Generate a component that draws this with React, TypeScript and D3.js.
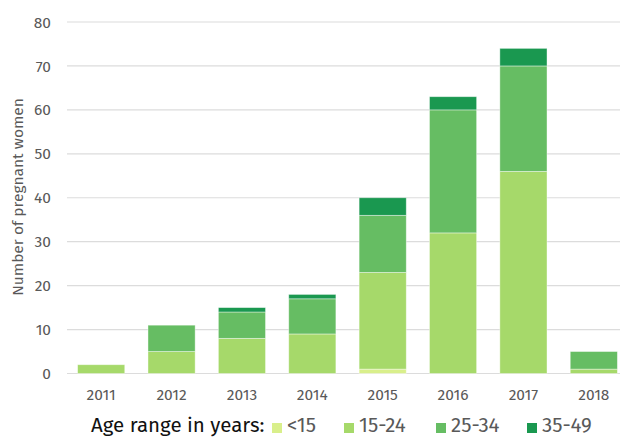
import { useEffect, useRef } from "react";
import * as d3 from "d3";

const years = ["2011", "2012", "2013", "2014", "2015", "2016", "2017", "2018"];
const ageGroups = ["<15", "15-24", "25-34", "35-49"];
const under15 = [0, 0, 0, 0, 1, 0, 0, 0];
const age15to24 = [2, 5, 8, 9, 22, 32, 46, 1];
const age25to34 = [0, 6, 6, 8, 13, 28, 24, 4];
const age35to49 = [0, 0, 1, 1, 4, 3, 4, 0];
const yTicks = [0, 10, 20, 30, 40, 50, 60, 70, 80];
const colors = ["#d9ef8b", "#a6d96a", "#66bd63", "#1a9850"];

const FONT = "'Fira Sans', 'Open Sans', 'Noto Sans', sans-serif";

const App = () => {
  const ref = useRef<SVGSVGElement>(null);

  useEffect(() => {
    const svg = d3.select(ref.current);
    svg.selectAll("*").remove();

    const rows = years.map((year, i) => ({
      year,
      "<15": under15[i],
      "15-24": age15to24[i],
      "25-34": age25to34[i],
      "35-49": age35to49[i],
    }));
    const stacked = d3.stack<any>().keys(ageGroups)(rows);

    const x = d3
      .scaleBand()
      .domain(years)
      .range([66, 629])
      .paddingInner(0.33)
      .paddingOuter(0.165);
    const y = d3.scaleLinear().domain([0, 80]).range([373.5, 22]);

    // grid
    svg
      .append("g")
      .selectAll("line")
      .data(yTicks)
      .join("line")
      .attr("x1", 67)
      .attr("x2", 620)
      .attr("y1", (d) => y(d))
      .attr("y2", (d) => y(d))
      .attr("stroke", "#dcdcdc")
      .attr("stroke-width", 1.2);

    svg
      .append("g")
      .selectAll("text")
      .data(yTicks)
      .join("text")
      .attr("x", 51)
      .attr("y", (d) => y(d))
      .attr("dy", "0.36em")
      .attr("text-anchor", "end")
      .attr("font-family", FONT)
      .attr("font-size", 15.5)
      .attr("fill", "#595959")
      .text((d) => d);

    // bars
    svg
      .append("g")
      .selectAll("g")
      .data(stacked)
      .join("g")
      .attr("fill", (_, i) => colors[i])
      .selectAll("rect")
      .data((s) => s.filter((d) => d[1] - d[0] > 0))
      .join("rect")
      .attr("x", (d: any) => x(d.data.year)!)
      .attr("width", x.bandwidth())
      .attr("y", (d) => y(d[1]))
      .attr("height", (d) => y(d[0]) - y(d[1]))
      .attr("stroke", "rgba(255,255,255,0.5)")
      .attr("stroke-width", 0.8);

    // x labels
    svg
      .append("g")
      .selectAll("text")
      .data(years)
      .join("text")
      .attr("x", (d) => x(d)! + x.bandwidth() / 2)
      .attr("y", 400)
      .attr("text-anchor", "middle")
      .attr("font-family", FONT)
      .attr("font-size", 15.5)
      .attr("fill", "#595959")
      .text((d) => d);

    // y title
    svg
      .append("text")
      .attr("transform", "translate(23,197) rotate(-90)")
      .attr("text-anchor", "middle")
      .attr("font-family", FONT)
      .attr("font-size", 15.5)
      .attr("fill", "#595959")
      .text("Number of pregnant women");

    // legend
    svg
      .append("text")
      .attr("x", 91)
      .attr("y", 432)
      .attr("font-family", FONT)
      .attr("font-size", 20.5)
      .attr("fill", "#111")
      .text("Age range in years:");

    const legendX = [272, 344, 436, 527];
    const lg = svg
      .append("g")
      .selectAll("g")
      .data(ageGroups)
      .join("g")
      .attr("transform", (_, i) => `translate(${legendX[i]},0)`);
    lg.append("rect")
      .attr("y", 423)
      .attr("width", 10)
      .attr("height", 10)
      .attr("fill", (_, i) => colors[i]);
    lg.append("text")
      .attr("x", 15)
      .attr("y", 432)
      .attr("font-family", FONT)
      .attr("font-size", 20.5)
      .attr("fill", "#595959")
      .text((d) => d);
  }, []);

  return (
    <svg
      ref={ref}
      width={620}
      height={437}
      style={{ position: "absolute", left: 0, top: 0, background: "#fff" }}
    />
  );
};

export default App;
